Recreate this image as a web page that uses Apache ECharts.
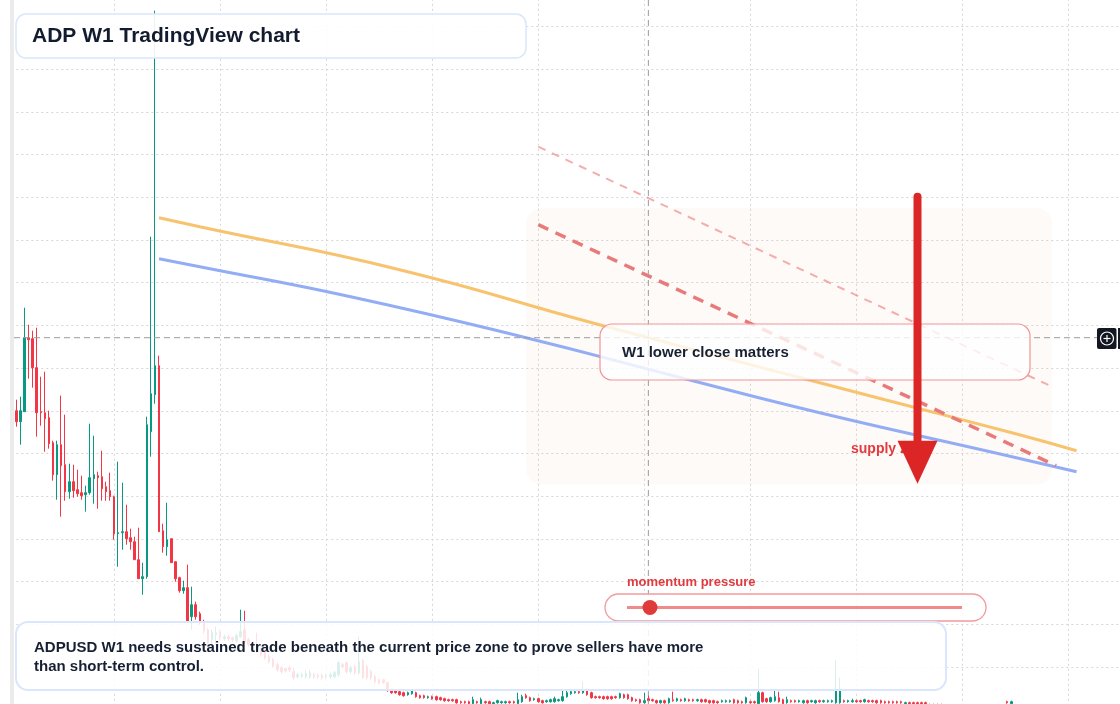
<!DOCTYPE html>
<html>
<head>
<meta charset="utf-8">
<title>ADP W1 TradingView chart</title>
<script src="https://cdn.jsdelivr.net/npm/echarts@6.0.0/dist/echarts.min.js"></script>
<style>
  html, body { margin: 0; padding: 0; background: #fff; }
  #chart { width: 1120px; height: 704px; }
</style>
</head>
<body>
<div id="chart"></div>
<script>
// weekly candles [open, close, low, high], price in chart points (one grid step = 42.7)
const ohlc = [
  [299,288,283,310],[288,299,265,313],[298,372,298,402],[372,370,331,385],[371,342,322,379],
  [342,297,273,382],[298,297,284,333],[297,291,258,338],[292,266,261,299],[267,235,229,269],
  [235,265,210,269],[265,244,193,314],[245,218,209,295],[218,228,211,246],[228,219,212,245],
  [220,216,213,240],[217,214,210,234],[215,217,198,224],[217,232,215,286],[231,235,206,274],
  [234,232,201,238],[233,221,209,259],[223,218,209,228],[219,213,209,237],[213,176,170,214],
  [176,177,143,248],[177,178,160,227],[178,171,165,205],[172,168,160,181],[168,150,150,173],
  [150,131,131,182],[131,133,115,147],[133,285,131,293],[278,316,253,473],[315,344,306,699],
  [344,178,178,354],[179,163,157,186],[163,170,154,207],[171,147,147,171],[148,131,128,148],
  [132,119,117,133],[119,122,116,129],[122,88,88,145],[93,105,80,123],[105,93,90,108],
  [96,88,85,98],[88,79,76,90],[80,67,63,82],[70,77,66,80],[75,77,65,83],
  [78,72,69,80],[71,73,69,75],[73,71,69,75],[72,70,68,73],[69,74,67,76],
  [73,78,72,100],[80,68,67,99],[70,65,63,72],[66,64,62,68],[65,60,57,77],
  [60,55,53,62],[57,52,50,59],[53,48,46,55],[50,44,42,52],[45,40,38,47],
  [42,38,36,43],[41,39,37,42],[42,40,38,44],[38,32,30,42],[33,35,31,37],
  [33,35,32,37],[33,36,31,39],[33,37,31,40],[35,33,31,37],[34,33,31,36],
  [34,32,30,36],[33,34,31,36],[33,35,31,37],[33,37,31,39],[35,47,33,48],
  [45,43,41,47],[47,38,36,48],[38,42,36,44],[43,37,35,45],[37,48,35,73],
  [49,32,31,51],[43,32,30,45],[38,32,30,40],[33,28,26,35],[30,27,25,31],
  [30,27,26,31],[27,19,18,28],[20,17,16,21],[19,17,16,20],[18,15,14,19],
  [17,14,13,18],[15,17,14,18],[16,19,15,20],[17,13,12,18],[14,12,11,15],
  [14,12,11,15],[12,13,11,14],[13,11,10,14],[13,10,9,14],[12,10,9,13],
  [11,9,8,12],[10,9,8,11],[10,9,8,11],[10,7,6,11],[8,7,6,9],
  [8,7,6,9],[8,6,5,9],[6,10,5,13],[8,7,6,9],[6,10,5,12],
  [8,7,6,9],[8,6,5,9],[6,7,5,8],[7,9,6,10],[7,8,6,9],
  [7,8,6,9],[8,7,6,9],[8,7,6,9],[6,10,5,17],[8,13,7,15],
  [14,12,11,16],[12,9,8,13],[10,11,9,12],[11,8,7,12],[9,7,6,10],
  [8,9,7,10],[8,10,7,11],[8,11,7,13],[9,10,8,11],[9,13,8,19],
  [13,17,12,20],[16,18,15,21],[17,18,16,21],[18,17,16,19],[17,20,16,28],
  [20,15,14,21],[17,12,11,18],[13,12,11,14],[13,12,11,14],[13,11,10,14],
  [13,11,10,14],[13,11,10,14],[13,12,11,14],[12,16,11,17],[15,12,11,16],
  [15,11,10,16],[12,9,8,13],[10,9,8,11],[10,7,6,11],[7,9,6,17],
  [11,9,8,15],[10,9,8,11],[9,7,6,10],[7,9,6,10],[9,7,6,10],
  [7,11,6,12],[10,9,8,18],[9,11,8,12],[10,9,8,11],[9,11,8,12],
  [10,9,8,11],[10,9,8,11],[9,10,8,11],[10,8,7,11],[10,8,7,11],
  [9,7,6,10],[9,7,6,10],[8,7,6,9],[8,9,7,10],[8,9,7,10],
  [8,9,7,10],[10,7,6,11],[9,7,6,10],[8,7,6,9],[7,12,6,13],
  [8,7,6,9],[8,7,6,9],[6,17,5,41],[17,8,7,18],[11,8,7,12],
  [8,12,7,13],[9,13,8,20],[12,8,7,18],[10,6,5,11],[7,10,6,13],
  [9,8,7,10],[9,8,7,10],[8,9,7,10],[7,9,6,10],[9,7,6,10],
  [8,9,7,10],[7,9,6,10],[9,8,7,10],[8,9,7,10],[8,9,7,10],
  [8,9,7,10],[7,20,6,50],[7,20,6,32],[9,8,7,10],[8,9,7,10],
  [8,9,7,11],[9,8,7,10],[9,8,7,10],[8,10,7,11],[9,8,7,10],
  [9,8,7,10],[9,7,6,10],[9,7,6,10],[8,7,6,9],[8,7,6,9],
  [8,7,6,9],[8,7,6,9],[8,7,6,9],[6,7,5,8],[7,6,5,8],
  [7,6,5,8],[7,6,5,8],[7,6,5,8],[7,6,5,8],[5,4,3,6],
  [4,5,3,6],[5,4,3,6],[5,3,2,6],[4,3,2,5],[3,4,2,5],
  [4,3,2,5],[4,3,2,5],[3,4,2,5],[4,3,2,5],[4,2,1,5],
  [3,2,1,4],[2,3,1,4],[3,2,1,4],[3,2,1,4],[2,3,1,4],
  [3,2,1,4],[3,2,1,4],[3,2,1,4],[8,7,6,9],[6,8,5,9],
  [4,3,2,5],[3,2,1,4],[2,3,1,4],[3,2,1,4],[3,2,1,4],
  [2,3,1,4],[3,2,1,4],[3,2,1,4],[2,3,1,4],[3,2,1,4],
  [3,2,1,4],[2,3,1,4],[3,2,1,4],[3,2,1,4],[2,4,1,5],
  [4,3,2,5],[3,2,1,4],[2,3,1,4],[3,2,1,4],[3,2,1,4],
  [2,3,1,4],[3,2,1,4],[3,2,1,4],[2,3,1,4],[3,2,1,4],
  [3,2,1,4],[10,6,5,11]
];

const weeks = [];
for (let i = 0; i < ohlc.length; i++) {
  weeks.push(new Date(Date.UTC(2020, 0, 6 + 7 * i)).toISOString().slice(0, 10));
}

// moving averages, [week index, price]
const maFast = [[35,492],[45,483],[94,440],[143,385],[213,310],[246,275],[260,259]];
const maSlow = [[35,451],[45,443],[82,413],[125,372],[163,332],[197,297],[241,256],[260,238]];

// projected resistance rays
const upperRay = [[128,563],[254,323]];
const lowerRay = [[128,485],[255,244]];

// supply zone corners and arrow
const zoneBox = [[125,502],[254,225]];
const arrowFrom = [221,513];
const arrowTo = [221,226];
const crosshair = [155,372];

const monthSplits = [24, 50, 76, 102, 128, 154, 180, 206, 232, 258];

const FONT = '"Liberation Sans", Arial, Helvetica, sans-serif';
const UP = '#089981';
const DOWN = '#f23645';
const GRID = '#d6d6d6';

const chart = echarts.init(document.getElementById('chart'));

chart.setOption({
  animation: false,
  backgroundColor: '#ffffff',
  grid: { left: 16.3, right: -1.4, top: -16.2, bottom: -5.7, outerBoundsMode: 'none' },
  xAxis: {
    type: 'category',
    data: weeks,
    boundaryGap: false,
    axisLine: { show: false },
    axisTick: { show: false },
    axisLabel: { show: false },
    splitLine: {
      show: true,
      interval: (i) => monthSplits.indexOf(i) >= 0,
      lineStyle: { color: GRID, type: [2, 3], width: 1 }
    }
  },
  yAxis: {
    type: 'value',
    min: 0,
    max: 725.9,
    interval: 42.7,
    axisLine: { show: false },
    axisTick: { show: false },
    axisLabel: { show: false },
    splitLine: { lineStyle: { color: GRID, type: [2, 3], width: 1 } }
  },
  series: [
    {
      type: 'candlestick',
      data: ohlc,
      barWidth: 2,
      clip: false,
      z: 3,
      itemStyle: {
        color: UP, color0: DOWN,
        borderColor: UP, borderColor0: DOWN,
        borderWidth: 1
      }
    },
    {
      type: 'line', data: maFast, smooth: true, showSymbol: false, z: 4,
      lineStyle: { color: '#f7c36e', width: 3 }
    },
    {
      type: 'line', data: maSlow, smooth: true, showSymbol: false, z: 4,
      lineStyle: { color: '#93adf5', width: 3 }
    },
    {
      type: 'line', data: upperRay, showSymbol: false, z: 5,
      lineStyle: { color: 'rgba(236,120,120,0.6)', width: 2, type: [8, 7] }
    },
    {
      type: 'line', data: lowerRay, showSymbol: false, z: 5,
      lineStyle: { color: '#e97a7a', width: 3.5, type: [11, 8] }
    }
  ]
});

const px = (p) => chart.convertToPixel({ xAxisIndex: 0, yAxisIndex: 0 }, p);

const z0 = px(zoneBox[0]);
const z1 = px(zoneBox[1]);
const aTop = px(arrowFrom);
const aTip = px(arrowTo);
const headBase = aTip[1] - 43;
const ch = px(crosshair);

chart.setOption({
  graphic: [
    // left panel edge
    { type: 'rect', z: 1, shape: { x: 10, y: 0, width: 4, height: 704 }, style: { fill: '#ebebeb' } },
    // supply zone
    {
      type: 'rect', z: 1,
      shape: { x: z0[0], y: z0[1], width: z1[0] - z0[0], height: z1[1] - z0[1], r: 16 },
      style: { fill: 'rgba(240,185,145,0.065)' }
    },
    // crosshair
    {
      type: 'line', z: 6, shape: { x1: 14, y1: ch[1], x2: 1097, y2: ch[1] },
      style: { stroke: '#9c9c9c', lineWidth: 1, lineDash: [6, 4] }
    },
    {
      type: 'line', z: 6, shape: { x1: ch[0], y1: 0, x2: ch[0], y2: 704 },
      style: { stroke: '#9c9c9c', lineWidth: 1, lineDash: [6, 4] }
    },
    // title
    {
      type: 'rect', z: 10, shape: { x: 16, y: 14, width: 510, height: 44, r: 10 },
      style: { fill: 'rgba(255,255,255,0.9)', stroke: '#d9e6fb', lineWidth: 1.5 }
    },
    {
      type: 'text', z: 11, x: 32, y: 36,
      style: { text: 'ADP W1 TradingView chart', font: 'bold 21px ' + FONT, fill: '#131b2e', verticalAlign: 'middle' }
    },
    // callout box
    {
      type: 'rect', z: 10, shape: { x: 600, y: 324, width: 430, height: 56, r: 12 },
      style: { fill: 'rgba(255,255,255,0.8)', stroke: '#f09595', lineWidth: 1.2 }
    },
    {
      type: 'text', z: 11, x: 622, y: 353,
      style: { text: 'W1 lower close matters', font: 'bold 15px ' + FONT, fill: '#172033', verticalAlign: 'middle' }
    },
    // supply zone label
    {
      type: 'text', z: 11, x: 851, y: 449,
      style: { text: 'supply zone', font: 'bold 14px ' + FONT, fill: '#e23a3f', verticalAlign: 'middle' }
    },
    // arrow
    {
      type: 'line', z: 12, shape: { x1: aTop[0], y1: aTop[1], x2: aTop[0], y2: headBase + 2 },
      style: { stroke: '#dc2626', lineWidth: 8, lineCap: 'round' }
    },
    {
      type: 'polygon', z: 12,
      shape: { points: [[aTip[0] - 20, headBase], [aTip[0] + 20, headBase], [aTip[0], aTip[1]]] },
      style: { fill: '#dc2626' }
    },
    // momentum slider
    {
      type: 'text', z: 11, x: 627, y: 582,
      style: { text: 'momentum pressure', font: 'bold 13px ' + FONT, fill: '#e03a3e', verticalAlign: 'middle' }
    },
    {
      type: 'rect', z: 10, shape: { x: 605, y: 594, width: 381, height: 27, r: 13.5 },
      style: { fill: 'rgba(255,255,255,0.85)', stroke: '#f29b9b', lineWidth: 1.3 }
    },
    {
      type: 'line', z: 11, shape: { x1: 627, y1: 607.5, x2: 962, y2: 607.5 },
      style: { stroke: '#ef8b8b', lineWidth: 3 }
    },
    { type: 'circle', z: 12, shape: { cx: 650, cy: 607.5, r: 7.5 }, style: { fill: '#e03b3b' } },
    // footnote
    {
      type: 'rect', z: 10, shape: { x: 16, y: 622, width: 930, height: 68, r: 12 },
      style: { fill: 'rgba(255,255,255,0.85)', stroke: '#d9e6fb', lineWidth: 2 }
    },
    {
      type: 'text', z: 11, x: 34, y: 648,
      style: {
        text: 'ADPUSD W1 needs sustained trade beneath the current price zone to prove sellers have more',
        font: 'bold 15px ' + FONT, fill: '#172033', verticalAlign: 'middle'
      }
    },
    {
      type: 'text', z: 11, x: 34, y: 667,
      style: { text: 'than short-term control.', font: 'bold 15px ' + FONT, fill: '#172033', verticalAlign: 'middle' }
    },
    // crosshair button
    {
      type: 'rect', z: 12, shape: { x: 1097, y: 328, width: 19.5, height: 21, r: 2 },
      style: { fill: '#131722' }
    },
    { type: 'rect', z: 12, shape: { x: 1118, y: 328, width: 2, height: 21 }, style: { fill: '#131722' } },
    {
      type: 'circle', z: 13, shape: { cx: 1107, cy: 338.5, r: 6.5 },
      style: { fill: 'none', stroke: '#ffffff', lineWidth: 1.2 }
    },
    {
      type: 'line', z: 13, shape: { x1: 1103.5, y1: 338.5, x2: 1110.5, y2: 338.5 },
      style: { stroke: '#ffffff', lineWidth: 1.2 }
    },
    {
      type: 'line', z: 13, shape: { x1: 1107, y1: 335, x2: 1107, y2: 342 },
      style: { stroke: '#ffffff', lineWidth: 1.2 }
    }
  ]
});
</script>
</body>
</html>
